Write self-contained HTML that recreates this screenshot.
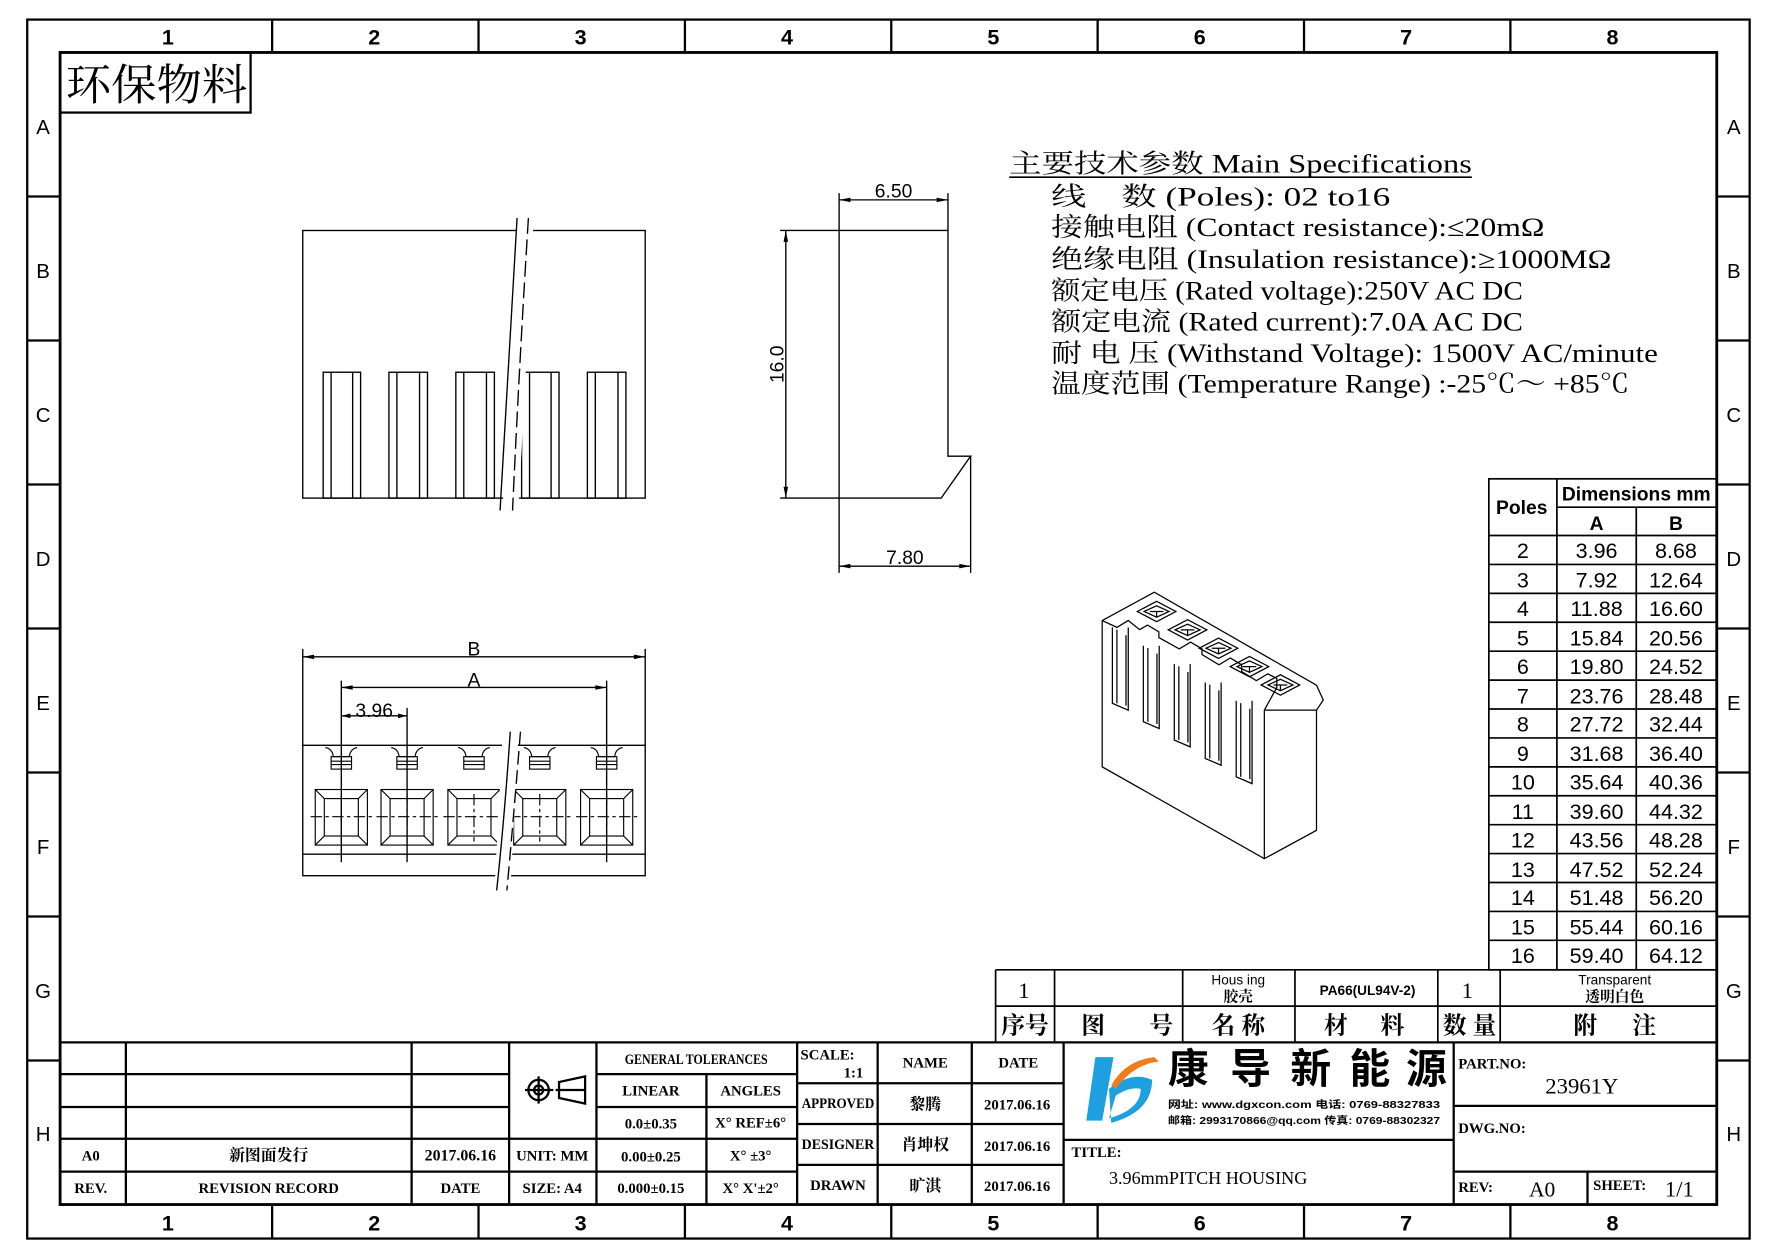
<!DOCTYPE html>
<html><head><meta charset="utf-8"><style>
html,body{margin:0;padding:0;background:#fff}
svg{display:block}
text{font-family:"Liberation Serif","Noto Serif CJK SC",serif;fill:#000}
.s{font-family:"Liberation Sans","Noto Sans CJK SC",sans-serif}
</style></head><body>
<svg width="1778" height="1257" viewBox="0 0 1568 1108" xmlns="http://www.w3.org/2000/svg">
<defs>
<g id="pin" fill="none" stroke="#000" stroke-width="1">
<path d="M-14 659Q-8 660-7 667H7Q8 660 14 659"/>
<rect x="-9" y="667" width="18" height="11"/><path d="M-9 671H9M-9 674H9"/>
<rect x="-23" y="696" width="46" height="49"/><rect x="-15" y="704" width="30" height="33"/>
<path d="M-23 696l8 8M23 696l-8 8M-23 745l8-8M23 745l-8-8"/>
<path d="M-27 720H27M0 700V742" stroke-dasharray="10 3 3 3"/>
</g>
</defs>
<rect width="1568" height="1108" fill="#fff"/>
<g fill="none" stroke="#000">
<rect x="24" y="17" width="1519" height="1075" stroke-width="2"/>
<rect x="53" y="46" width="1461" height="1016" stroke-width="2.5"/>
<g stroke-width="2">
<path d="M240 17V46M422 17V46M604 17V46M786 17V46M968 17V46M1150 17V46M1332 17V46"/>
<path d="M240 1062V1092M422 1062V1092M604 1062V1092M786 1062V1092M968 1062V1092M1150 1062V1092M1332 1062V1092"/>
<path d="M24 173H53M24 300H53M24 427H53M24 554H53M24 681H53M24 808H53M24 935H53"/>
<path d="M1514 173H1543M1514 300H1543M1514 427H1543M1514 554H1543M1514 681H1543M1514 808H1543M1514 935H1543"/>
</g>
<rect x="53" y="46" width="168" height="53" stroke-width="2"/>
</g>
<g class="s" font-size="19" text-anchor="middle" font-weight="bold">
<text x="148" y="39" class="s">1</text><text x="330" y="39" class="s">2</text><text x="512" y="39" class="s">3</text><text x="694" y="39" class="s">4</text><text x="876" y="39" class="s">5</text><text x="1058" y="39" class="s">6</text><text x="1240" y="39" class="s">7</text><text x="1422" y="39" class="s">8</text>
<text x="148" y="1085" class="s">1</text><text x="330" y="1085" class="s">2</text><text x="512" y="1085" class="s">3</text><text x="694" y="1085" class="s">4</text><text x="876" y="1085" class="s">5</text><text x="1058" y="1085" class="s">6</text><text x="1240" y="1085" class="s">7</text><text x="1422" y="1085" class="s">8</text>
</g>
<g class="s" font-size="18" text-anchor="middle">
<text x="38" y="118" class="s">A</text><text x="38" y="245" class="s">B</text><text x="38" y="372" class="s">C</text><text x="38" y="499" class="s">D</text><text x="38" y="626" class="s">E</text><text x="38" y="753" class="s">F</text><text x="38" y="880" class="s">G</text><text x="38" y="1006" class="s">H</text>
<text x="1529" y="118" class="s">A</text><text x="1529" y="245" class="s">B</text><text x="1529" y="372" class="s">C</text><text x="1529" y="499" class="s">D</text><text x="1529" y="626" class="s">E</text><text x="1529" y="753" class="s">F</text><text x="1529" y="880" class="s">G</text><text x="1529" y="1006" class="s">H</text>
</g>
<text x="58" y="88" font-size="38" textLength="160" lengthAdjust="spacingAndGlyphs">环保物料</text>

<!-- specs -->
<g font-size="23">
<text x="890" y="152" textLength="408" lengthAdjust="spacingAndGlyphs">主要技术参数 Main Specifications</text>
<path d="M890 156H1298" stroke="#000" stroke-width="1.5"/>
<text x="927" y="181" textLength="299" lengthAdjust="spacingAndGlyphs" xml:space="preserve">线    数 (Poles): 02 to16</text>
<text x="927" y="208" textLength="435" lengthAdjust="spacingAndGlyphs">接触电阻 (Contact resistance):≤20mΩ</text>
<text x="927" y="236" textLength="494" lengthAdjust="spacingAndGlyphs">绝缘电阻 (Insulation resistance):≥1000MΩ</text>
<text x="927" y="264" textLength="416" lengthAdjust="spacingAndGlyphs">额定电压 (Rated voltage):250V AC DC</text>
<text x="927" y="291" textLength="416" lengthAdjust="spacingAndGlyphs">额定电流 (Rated current):7.0A AC DC</text>
<text x="927" y="319" textLength="535" lengthAdjust="spacingAndGlyphs">耐 电 压 (Withstand Voltage): 1500V AC/minute</text>
<text x="927" y="346" textLength="510" lengthAdjust="spacingAndGlyphs">温度范围 (Temperature Range) :-25℃～ +85℃</text>
</g>

<!-- top view -->
<g fill="none" stroke="#000" stroke-width="1.2">
<rect x="267" y="203" width="302" height="236"/>
<g>
<rect x="285" y="328" width="33" height="111"/><path d="M292 328V439M311 328V439"/>
<rect x="343" y="328" width="34" height="111"/><path d="M350 328V439M370 328V439"/>
<rect x="402" y="328" width="34" height="111"/><path d="M409 328V439M429 328V439"/>
<rect x="460" y="328" width="33" height="111"/><path d="M467 328V439M486 328V439"/>
<rect x="518" y="328" width="34" height="111"/><path d="M525 328V439M545 328V439"/>
</g>
</g>
<rect x="450" y="190" width="14" height="262" fill="#fff" transform="rotate(3 457 320)"/>
<path d="M456 192 Q448 320 441 450" fill="none" stroke="#000" stroke-width="1.2"/>
<path d="M466 192 Q458 320 452 450" fill="none" stroke="#000" stroke-width="1.2" stroke-dasharray="14 5"/>

<!-- side view -->
<g fill="none" stroke="#000" stroke-width="1.2">
<path d="M740 203H836V402H856L830 439H740Z"/>
<path d="M740 176H836M740 170V203M836 170V203"/>
<path d="M693 203V439M688 203H740M688 439H740"/>
<path d="M740 499H856M740 439V505M856 402V505"/>
</g>
<g fill="#000"><path d="M740 176l10-2v4zM836 176l-10-2v4zM693 203l-2 10h4zM693 439l-2-10h4zM740 499l10-2v4zM856 499l-10-2v4z"/></g>
<g class="s" font-size="17" text-anchor="middle">
<text x="788" y="174" class="s">6.50</text>
<text x="798" y="497" class="s">7.80</text>
<text x="0" y="0" class="s" transform="translate(691 321) rotate(-90)">16.0</text>
</g>

<!-- bottom view -->
<g fill="none" stroke="#000" stroke-width="1.2">
<rect x="267" y="657" width="302" height="115"/>
<path d="M267 753H569"/>
<path d="M267 579H569M267 572V657M569 572V657"/>
<path d="M301 606H535M301 600V760M535 600V760"/>
<path d="M301 631H359M359 624V760"/>
</g>
<g fill="#000"><path d="M267 579l10-2v4zM569 579l-10-2v4zM301 606l10-2v4zM535 606l-10-2v4zM301 631l8-2v4zM359 631l-8-2v4z"/></g>
<g class="s" font-size="17" text-anchor="middle">
<text x="418" y="578" class="s">B</text><text x="418" y="605" class="s">A</text><text x="330" y="632" class="s">3.96</text>
</g>
<use href="#pin" x="301"/><use href="#pin" x="359"/><use href="#pin" x="418"/><use href="#pin" x="476"/><use href="#pin" x="535"/>
<rect x="440" y="640" width="14" height="145" fill="#fff" transform="rotate(3 447 710)"/>
<path d="M450 645 Q445 720 438 785" fill="none" stroke="#000" stroke-width="1.2"/>
<path d="M459 645 Q453 720 447 785" fill="none" stroke="#000" stroke-width="1.2" stroke-dasharray="12 5"/>

<!-- iso view -->
<g fill="none" stroke="#000" stroke-width="1.1">
<path d="M972 547L1018 522L1161 604L1167 617L1161 626V732L1115 757L972 676Z"/>
<path d="M1115 626V757M1115 626L1161 626"/>
<path d="M972 547L985 553L995 547L1005 555L1012 551L1022 557L1022 562L1040 572L1050 566L1060 572L1060 577L1075 586L1085 580L1095 586L1095 592L1108 600L1118 594L1126 598L1126 606L1115 626"/>
<g id="slot"><path d="M981 553V620L995 626V553M985 555V620M993 560V622"/></g>
<use href="#slot" x="27.3" y="16.2"/><use href="#slot" x="54.6" y="32.4"/><use href="#slot" x="81.9" y="48.6"/><use href="#slot" x="109.2" y="64.8"/>
<g id="sq"><path d="M1003 539L1020 530L1037 539L1020 548Z M1009 539L1020 534L1031 539L1020 544Z M1020 539V544M1014 539H1026"/></g>
<use href="#sq" x="27.3" y="16.2"/><use href="#sq" x="54.6" y="32.4"/><use href="#sq" x="81.9" y="48.6"/><use href="#sq" x="109.2" y="64.8"/>
</g>

<!-- poles table -->
<g fill="none" stroke="#000" stroke-width="1.5">
<rect x="1313" y="422" width="201" height="433"/>
<path d="M1373 422V855M1443 447V855M1373 447H1514M1313 472H1514"/>
<path d="M1313 497.5H1514M1313 523H1514M1313 548.5H1514M1313 574H1514M1313 599.5H1514M1313 625H1514M1313 650.5H1514M1313 676H1514M1313 701.5H1514M1313 727H1514M1313 752.5H1514M1313 778H1514M1313 803.5H1514M1313 829H1514"/>
</g>
<g class="s" font-size="17" font-weight="bold" text-anchor="middle">
<text x="1342" y="453" class="s">Poles</text>
<text x="1443" y="441" class="s">Dimensions mm</text>
<text x="1408" y="467" class="s">A</text><text x="1478" y="467" class="s">B</text>
</g>
<g class="s" font-size="19" text-anchor="middle">
<text x="1343" y="492" class="s">2</text><text x="1408" y="492" class="s">3.96</text><text x="1478" y="492" class="s">8.68</text>
<text x="1343" y="518" class="s">3</text><text x="1408" y="518" class="s">7.92</text><text x="1478" y="518" class="s">12.64</text>
<text x="1343" y="543" class="s">4</text><text x="1408" y="543" class="s">11.88</text><text x="1478" y="543" class="s">16.60</text>
<text x="1343" y="569" class="s">5</text><text x="1408" y="569" class="s">15.84</text><text x="1478" y="569" class="s">20.56</text>
<text x="1343" y="594" class="s">6</text><text x="1408" y="594" class="s">19.80</text><text x="1478" y="594" class="s">24.52</text>
<text x="1343" y="620" class="s">7</text><text x="1408" y="620" class="s">23.76</text><text x="1478" y="620" class="s">28.48</text>
<text x="1343" y="645" class="s">8</text><text x="1408" y="645" class="s">27.72</text><text x="1478" y="645" class="s">32.44</text>
<text x="1343" y="671" class="s">9</text><text x="1408" y="671" class="s">31.68</text><text x="1478" y="671" class="s">36.40</text>
<text x="1343" y="696" class="s">10</text><text x="1408" y="696" class="s">35.64</text><text x="1478" y="696" class="s">40.36</text>
<text x="1343" y="722" class="s">11</text><text x="1408" y="722" class="s">39.60</text><text x="1478" y="722" class="s">44.32</text>
<text x="1343" y="747" class="s">12</text><text x="1408" y="747" class="s">43.56</text><text x="1478" y="747" class="s">48.28</text>
<text x="1343" y="773" class="s">13</text><text x="1408" y="773" class="s">47.52</text><text x="1478" y="773" class="s">52.24</text>
<text x="1343" y="798" class="s">14</text><text x="1408" y="798" class="s">51.48</text><text x="1478" y="798" class="s">56.20</text>
<text x="1343" y="824" class="s">15</text><text x="1408" y="824" class="s">55.44</text><text x="1478" y="824" class="s">60.16</text>
<text x="1343" y="849" class="s">16</text><text x="1408" y="849" class="s">59.40</text><text x="1478" y="849" class="s">64.12</text>
</g>

<!-- BOM -->
<g fill="none" stroke="#000" stroke-width="1.5">
<path d="M878 855H1514M878 887H1514M878 855V919M930 855V919M1043 855V919M1142 855V919M1268 855V919M1323 855V919"/>
</g>
<g text-anchor="middle">
<text x="903" y="880" font-size="20">1</text>
<text x="1092" y="868" font-size="12" class="s">Hous ing</text>
<text x="1092" y="883" font-size="13" font-weight="bold">胶壳</text>
<text x="1206" y="877" font-size="12" class="s" font-weight="bold">PA66(UL94V-2)</text>
<text x="1294" y="880" font-size="20">1</text>
<text x="1424" y="868" font-size="12" class="s">Transparent</text>
<text x="1424" y="883" font-size="13" font-weight="bold">透明白色</text>
<g font-size="21" font-weight="bold">
<text x="904" y="911">序号</text><text x="964" y="911">图</text><text x="1024" y="911">号</text>
<text x="1092" y="911">名 称</text><text x="1178" y="911">材</text><text x="1228" y="911">料</text>
<text x="1296" y="911">数 量</text><text x="1398" y="911">附</text><text x="1450" y="911">注</text>
</g>
</g>

<!-- title block -->
<g fill="none" stroke="#000" stroke-width="2">
<path d="M53 919H1514"/>
<path d="M53 947H449M53 976H449M53 1004H703M53 1033H703M526 947H703M526 976H703"/>
<path d="M111 919V1062M363 919V1062M449 919V1062M526 919V1062M623 947V1062M703 919V1062"/>
<path d="M703 955H938M703 991H938M703 1027H938M774 919V1062M857 919V1062M938 919V1062"/>
<path d="M938 1005H1282M1282 919V1062M1282 975H1514M1282 1033H1514M1400 1033V1062"/>
</g>
<g font-size="13" text-anchor="middle" font-weight="bold">
<text x="614" y="938" textLength="126" lengthAdjust="spacingAndGlyphs">GENERAL TOLERANCES</text>
<text x="574" y="966">LINEAR</text><text x="662" y="966">ANGLES</text>
<text x="574" y="995">0.0±0.35</text><text x="662" y="994">X° REF±6°</text>
<text x="574" y="1024">0.00±0.25</text><text x="662" y="1023">X° ±3°</text>
<text x="574" y="1052">0.000±0.15</text><text x="662" y="1052">X° X'±2°</text>
<text x="80" y="1023">A0</text><text x="237" y="1023" font-size="14">新图面发行</text><text x="406" y="1023" font-size="14">2017.06.16</text>
<text x="80" y="1052">REV.</text><text x="237" y="1052">REVISION RECORD</text><text x="406" y="1052">DATE</text>
<text x="487" y="1023">UNIT: MM</text><text x="487" y="1052">SIZE: A4</text>
<text x="816" y="941">NAME</text><text x="898" y="941">DATE</text>
<text x="739" y="977" textLength="64" lengthAdjust="spacingAndGlyphs">APPROVED</text><text x="739" y="1013" textLength="64" lengthAdjust="spacingAndGlyphs">DESIGNER</text><text x="739" y="1049">DRAWN</text>
<text x="816" y="978" font-size="14">黎腾</text><text x="816" y="1014" font-size="14">肖坤权</text><text x="816" y="1050" font-size="14">旷淇</text>
<text x="897" y="978">2017.06.16</text><text x="897" y="1015">2017.06.16</text><text x="897" y="1050">2017.06.16</text>
</g>
<g font-size="13" font-weight="bold">
<text x="706" y="934">SCALE:</text><text x="744" y="950">1:1</text>
<text x="945" y="1020">TITLE:</text>
<text x="1286" y="942">PART.NO:</text>
<text x="1286" y="999">DWG.NO:</text>
<text x="1286" y="1051">REV:</text><text x="1405" y="1049">SHEET:</text>
</g>
<text x="978" y="1044" font-size="16">3.96mmPITCH HOUSING</text>
<text x="1395" y="964" font-size="20" text-anchor="middle">23961Y</text>
<text x="1360" y="1055" font-size="19" text-anchor="middle">A0</text>
<text x="1481" y="1055" font-size="20" text-anchor="middle">1/1</text>
<!-- symbol -->
<g fill="none" stroke="#000" stroke-width="2">
<circle cx="475" cy="961" r="9"/><circle cx="475" cy="961" r="4"/><path d="M463 961H488M475 949V973"/>
<path d="M493 954V968L516 973V949Z M490 961H516"/>
</g>
<!-- logo -->
<path d="M966 932L982 932L972 988L958 988Z" fill="#1ea0e0"/>
<path d="M978 960Q998 944 1016 952Q1016 980 980 990Z M984 966L978 986Q1006 978 1006 960Q996 958 984 966Z" fill="#1ea0e0" fill-rule="evenodd"/>
<path d="M980 957Q992 935 1018 932L1022 936Q1000 938 984 960Z" fill="#f07c1c"/>
<g font-size="36" font-weight="bold">
<text x="1030" y="955" class="s">康</text><text x="1085" y="955" class="s">导</text><text x="1138" y="955" class="s">新</text><text x="1190" y="955" class="s">能</text><text x="1240" y="955" class="s">源</text>
</g>
<g font-size="9" font-weight="bold">
<text x="1030" y="977" class="s" textLength="240" lengthAdjust="spacingAndGlyphs">网址: www.dgxcon.com    电话: 0769-88327833</text>
<text x="1030" y="991" class="s" textLength="240" lengthAdjust="spacingAndGlyphs">邮箱: 2993170866@qq.com 传真: 0769-88302327</text>
</g>
</svg>
</body></html>
